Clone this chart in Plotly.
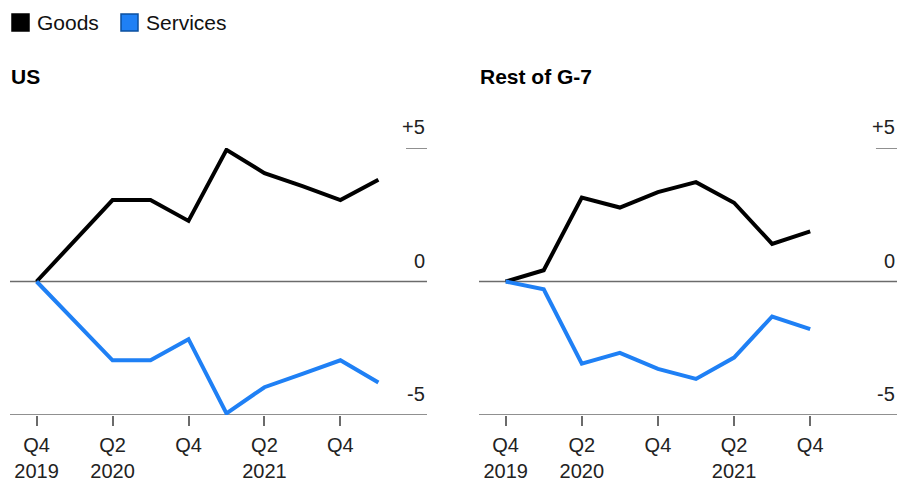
import plotly.graph_objects as go

# Quarterly change since Q4 2019, percent
quarters_us = ["Q4 2019", "Q1 2020", "Q2 2020", "Q3 2020", "Q4 2020",
               "Q1 2021", "Q2 2021", "Q3 2021", "Q4 2021", "Q1 2022"]
quarters_g7 = quarters_us[:9]

us_goods = [0, 1.5, 3.05, 3.05, 2.27, 4.93, 4.06, 3.57, 3.05, 3.81]
us_services = [0, -1.48, -2.95, -2.95, -2.16, -4.94, -3.96, -3.46, -2.95, -3.78]
g7_goods = [0, 0.42, 3.14, 2.77, 3.35, 3.72, 2.95, 1.41, 1.88]
g7_services = [0, -0.29, -3.08, -2.67, -3.27, -3.65, -2.85, -1.31, -1.78]

tick_idx = [0, 2, 4, 6, 8]
tick_text = ["Q4<br>2019", "Q2<br>2020", "Q4", "Q2<br>2021", "Q4"]
y_ticks = [5, 0, -5]
y_tick_text = ["+5", "0", "-5"]

panel_titles = ["US", "Rest of G-7"]
series_names = ["Goods", "Services"]

GOODS = "#000000"
SERVICES = "#1f80f5"
AXIS = "#6b6b6b"
FONT = "Liberation Sans, Arial, sans-serif"

W, H = 899, 483
x_domains = [[10 / W, 427 / W], [479 / W, 897 / W]]
y_domain = [(H - 415) / H, (H - 148) / H]

fig = go.Figure()

panels = [(quarters_us, us_goods, us_services), (quarters_g7, g7_goods, g7_services)]
for i, (qs, goods, services) in enumerate(panels):
    xa = "x" if i == 0 else "x2"
    ya = "y" if i == 0 else "y2"
    idx = list(range(len(qs)))
    for vals, color, name in [(goods, GOODS, series_names[0]), (services, SERVICES, series_names[1])]:
        fig.add_trace(go.Scatter(
            x=idx, y=vals, mode="lines", name=name, text=qs,
            line=dict(color=color, width=4), xaxis=xa, yaxis=ya,
            showlegend=False, hovertemplate="%{text}: %{y}<extra>" + name + "</extra>",
        ))

axis_common_x = dict(
    range=[-0.7, 10.28], tickmode="array", tickvals=tick_idx, ticktext=tick_text,
    ticks="outside", ticklen=10, tickwidth=1.5, tickcolor=AXIS,
    ticklabelstandoff=2, automargin=False,
    showline=False, showgrid=False, zeroline=False,
    tickfont=dict(family=FONT, size=20, color="#222222"), fixedrange=True,
)
axis_common_y = dict(
    range=[-5, 5], domain=y_domain, showticklabels=False, ticks="",
    showgrid=False, zeroline=False, showline=False, fixedrange=True,
    automargin=False,
)

fig.update_layout(
    xaxis=dict(domain=x_domains[0], anchor="y", **axis_common_x),
    xaxis2=dict(domain=x_domains[1], anchor="y2", **axis_common_x),
    yaxis=dict(anchor="x", **axis_common_y),
    yaxis2=dict(anchor="x2", **axis_common_y),
    width=W, height=H,
    margin=dict(l=0, r=0, t=0, b=0, autoexpand=False),
    paper_bgcolor="white", plot_bgcolor="white",
    showlegend=False,
    font=dict(family=FONT, color="#222222"),
)

shapes = []
annotations = []
for i in range(2):
    xr = "x" if i == 0 else "x2"
    yr = "y" if i == 0 else "y2"
    # zero line and bottom line across the panel
    for v in [0, -5]:
        shapes.append(dict(type="line", xref=xr + " domain", yref=yr,
                           x0=0, x1=1, y0=v, y1=v,
                           line=dict(color=AXIS, width=1.5), layer="below"))
    # short tick mark under the +5 label
    shapes.append(dict(type="line", xref=xr + " domain", yref=yr,
                       x0=1 - 21 / 417, x1=1, y0=5, y1=5,
                       line=dict(color=AXIS, width=1.5)))
    for v, t in zip(y_ticks, y_tick_text):
        annotations.append(dict(xref=xr + " domain", yref=yr, x=1, y=v,
                                text=t, showarrow=False, xanchor="right",
                                yanchor="bottom", yshift=8,
                                font=dict(family=FONT, size=20, color="#222222")))
    annotations.append(dict(xref="paper", yref="paper", x=x_domains[i][0] - 1 / W, y=(H - 76) / H,
                            text="<b>" + panel_titles[i] + "</b>", showarrow=False,
                            xanchor="left", yanchor="middle",
                            font=dict(family=FONT, size=21, color="#000000")))

# legend swatches
legend_items = [(series_names[0], GOODS, "#000000", 12), (series_names[1], SERVICES, "#0b4f9e", 121)]
for name, fill, border, x0 in legend_items:
    shapes.append(dict(type="rect", xref="paper", yref="paper",
                       x0=x0 / W, x1=(x0 + 17) / W,
                       y0=(H - 31) / H, y1=(H - 14) / H,
                       fillcolor=fill, line=dict(color=border, width=1.5)))
    annotations.append(dict(xref="paper", yref="paper", x=(x0 + 23) / W, y=(H - 22.5) / H,
                            text=name, showarrow=False, xanchor="left", yanchor="middle",
                            font=dict(family=FONT, size=21, color="#111111")))

fig.update_layout(shapes=shapes, annotations=annotations)

fig.write_html("out.html")
